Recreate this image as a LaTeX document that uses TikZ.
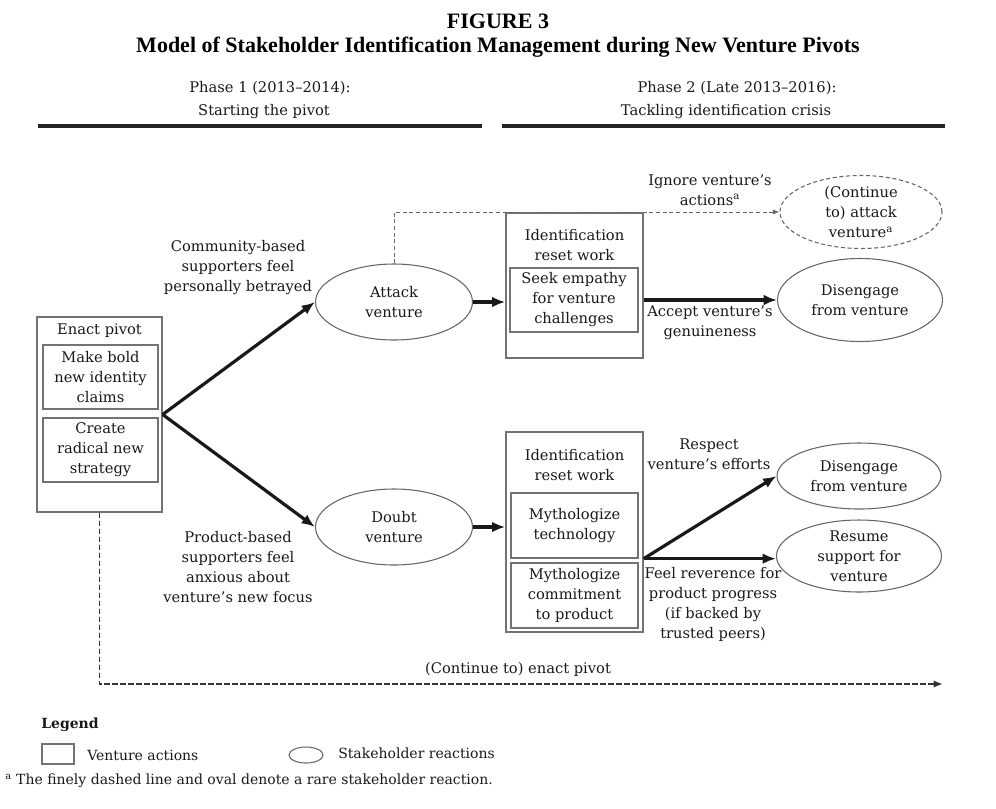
\documentclass[tikz,border=0pt]{standalone}
\usepackage{fontspec}
\setmainfont{DejaVu Serif}
\newfontfamily\titlefont{Liberation Serif}
\usetikzlibrary{arrows.meta,shapes.geometric}
\def\px{0.75pt}

\tikzset{
	txt/.style={font=\fontsize{11}{15}\selectfont,text=black!90,align=center,inner sep=0pt},
	small/.style={font=\fontsize{10.5}{13}\selectfont,text=black!90,inner sep=0pt},
	actbox/.style={txt,draw=black!55,line width=1pt},
	react/.style={txt,ellipse,draw=black!60,line width=0.8pt},
	rare/.style={react,dash pattern=on 3pt off 2pt},
	bigarrow/.style={-{Latex[length=10pt,width=8pt]},line width=2.4pt,black!90},
	rarearrow/.style={-{Latex[length=5pt,width=4pt]},line width=0.7pt,black!60,dash pattern=on 3pt off 2pt},
	pivotarrow/.style={-{Latex[length=7pt,width=5.5pt]},line width=1.4pt,black!80,dash pattern=on 4pt off 2pt},
	phasebar/.style={line width=3pt,black!85}
}

\begin{document}
\begin{tikzpicture}[x=\px,y=-\px,>=latex]
\useasboundingbox (0,0) rectangle (996,808);

% Titel
\node[font=\titlefont\bfseries\fontsize{16.5}{19}\selectfont] (fig) at (498,21) {FIGURE 3};
\node[font=\titlefont\bfseries\fontsize{16.5}{19}\selectfont] (figtitle) at (498,47)
	{Model of Stakeholder Identification Management during New Venture Pivots};

% Phasen
\node[txt] (phaseA) at (270,88) {Phase 1 (2013--2014):};
\node[txt] (phaseAsub) at (264,112) {Starting the pivot};
\node[txt] (phaseB) at (737,88) {Phase 2 (Late 2013--2016):};
\node[txt] (phaseBsub) at (726,112) {Tackling identification crisis};
\draw[phasebar] (38,126)--(482,126);
\draw[phasebar] (502,126)--(945,126);

% Venture actions
\node[actbox,minimum width=125*\px,minimum height=195*\px] (enact) at (99.5,414.5) {};
\node[txt] (enacttitle) at (99.5,331) {Enact pivot};
\node[actbox,minimum width=115*\px,minimum height=64*\px] (claims) at (100.5,377)
	{Make bold\\new identity\\claims};
\node[actbox,minimum width=115*\px,minimum height=64*\px] (strategy) at (100.5,450)
	{Create\\radical new\\strategy};

\node[actbox,minimum width=137*\px,minimum height=145*\px] (resetA) at (574.5,285.5) {};
\node[txt] (resetAtitle) at (574.5,245) {Identification\\reset work};
\node[actbox,minimum width=128*\px,minimum height=64*\px] (empathy) at (574,300)
	{Seek empathy\\for venture\\challenges};

\node[actbox,minimum width=137*\px,minimum height=200*\px] (resetB) at (574.5,532) {};
\node[txt] (resetBtitle) at (574.5,465) {Identification\\reset work};
\node[actbox,minimum width=127*\px,minimum height=65*\px] (mythtech) at (574.5,525.5)
	{Mythologize\\technology};
\node[actbox,minimum width=127*\px,minimum height=65*\px] (mythprod) at (574.5,595.5)
	{Mythologize\\commitment\\to product};

% Stakeholder reactions
\node[react,minimum width=157*\px,minimum height=76*\px] (attack) at (394,302) {Attack\\venture};
\node[react,minimum width=157*\px,minimum height=76*\px] (doubt) at (394,527) {Doubt\\venture};
\node[rare,minimum width=162*\px,minimum height=73*\px] (keepattack) at (861,212)
	{(Continue\\to) attack\\venture\textsuperscript{a}};
\node[react,minimum width=165*\px,minimum height=83*\px] (disengageA) at (860,300)
	{Disengage\\from venture};
\node[react,minimum width=164*\px,minimum height=66*\px] (disengageB) at (859,476)
	{Disengage\\from venture};
\node[react,minimum width=165*\px,minimum height=70*\px] (resume) at (859,556)
	{Resume\\support for\\venture};

% Pfeile
\draw[bigarrow] (enact.east) -- (attack.west);
\draw[bigarrow] (enact.east) -- (doubt.west);
\draw[bigarrow] (attack.east) -- (attack.east -| resetA.west);
\draw[bigarrow] (doubt.east) -- (doubt.east -| resetB.west);
\draw[bigarrow] (disengageA.west -| resetA.east) -- (disengageA.west);
\coordinate (split) at (resetB.east |- mythtech.south);
\draw[bigarrow] (split) -- (disengageB.west);
\draw[bigarrow] (split) -- (split -| resume.west);
\draw[rarearrow] (attack.north) |- (keepattack.west);
\coordinate (pivotend) at (943,684);
\draw[pivotarrow] (enact.south) |- (pivotend);

% Beschriftungen
\node[txt] (community) at (238,268) {Community-based\\supporters feel\\personally betrayed};
\node[txt] (product) at (238,567.5) {Product-based\\supporters feel\\anxious about\\venture's new focus};
\node[txt] (ignore) at (710,190) {Ignore venture's\\actions\textsuperscript{a}};
\node[txt] (accept) at (710,323) {Accept venture's\\genuineness};
\node[txt] (respect) at (709,454) {Respect\\venture's efforts};
\node[txt] (reverence) at (713,604) {Feel reverence for\\product progress\\(if backed by\\trusted peers)};
\node[txt] (continue) at (518,669) {(Continue to) enact pivot};

% Legende
\node[small,font=\bfseries\fontsize{10.5}{13}\selectfont,anchor=west] (legend) at (41,725) {Legend};
\node[actbox,minimum width=32*\px,minimum height=20*\px] (legbox) at (58,754) {};
\node[small,anchor=west] (legboxtxt) at (87,755) {Venture actions};
\node[react,minimum width=34*\px,minimum height=16*\px] (legoval) at (306,755) {};
\node[small,anchor=west] (legovaltxt) at (338,753) {Stakeholder reactions};
\node[small,anchor=west] (footnote) at (5,781)
	{\textsuperscript{a} The finely dashed line and oval denote a rare stakeholder reaction.};

\end{tikzpicture}
\end{document}
